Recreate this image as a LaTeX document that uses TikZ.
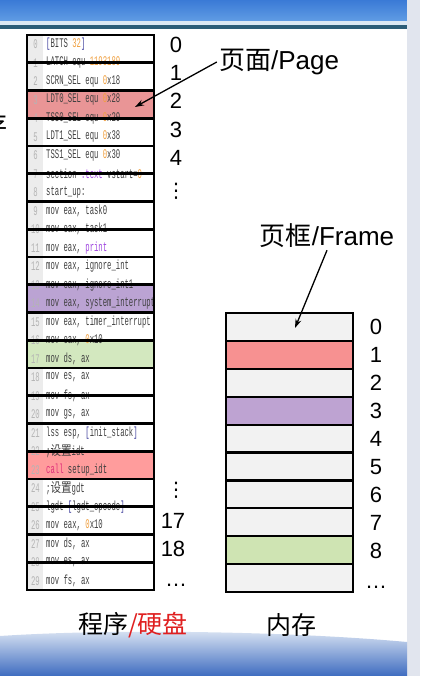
\documentclass[tikz,border=0pt]{standalone}
\usepackage{fontspec}
\setmainfont{Liberation Sans}
\newfontfamily\cjk{Noto Sans CJK SC}
\newfontfamily\dejavu{DejaVu Sans}
\newfontfamily\codefont[FakeStretch=0.55]{Liberation Mono}
\newfontfamily\cjkcode[FakeStretch=0.8]{Noto Sans CJK SC}
\usetikzlibrary{arrows.meta}
\definecolor{codegray}{HTML}{404040}
\definecolor{lngray}{HTML}{B4B4B4}
\definecolor{gutter}{HTML}{ECECEC}
\definecolor{corange}{HTML}{F0A040}
\definecolor{cpurple}{HTML}{A048E0}
\definecolor{cblue}{HTML}{3A3A9A}
\definecolor{cmag}{HTML}{E0307A}
\definecolor{hlredA}{HTML}{E99596}
\definecolor{hlredB}{HTML}{FF9C9C}
\definecolor{hlpurple}{HTML}{BBA3D3}
\definecolor{hlgreen}{HTML}{D3E8BF}
\definecolor{frgray}{HTML}{F2F2F2}
\definecolor{frred}{HTML}{F79191}
\definecolor{frpurple}{HTML}{BEA3D2}
\definecolor{frgreen}{HTML}{CFE4B3}
\definecolor{labelred}{HTML}{E02020}
\definecolor{bannerA}{HTML}{3A7AD6}
\definecolor{bannerB}{HTML}{609CE4}
\definecolor{bannerline}{HTML}{DCE8F3}
\definecolor{bannerdark}{HTML}{2C5D78}
\definecolor{sidestrip}{HTML}{E1E5EE}
\definecolor{waveA}{HTML}{E1E9F5}
\definecolor{waveB}{HTML}{3E6CC0}
\newcommand\corg[1]{\textcolor{corange}{#1}}
\newcommand\cpur[1]{\textcolor{cpurple}{#1}}
\newcommand\cblu[1]{\textcolor{cblue}{#1}}
\newcommand\cmg[1]{\textcolor{cmag}{#1}}
\newcommand\codeline[2]{%
  \node[codetxt] (c#1) at (46,{35+18.5*(#1+0.5)}) {#2};
  \node[lnum] (n#1) at (35.5,{35+18.5*(#1+0.5)}) {#1};}
\tikzset{
  codetxt/.style={anchor=west, inner sep=0pt, text=codegray,
    font=\codefont\fontsize{13.2}{14}\selectfont},
  lnum/.style={inner sep=0pt, text=lngray,
    font=\codefont\fontsize{13.2}{14}\selectfont},
  pagebox/.style={draw=black, line width=2.6pt, minimum width=127pt,
    minimum height=27.75pt, inner sep=0pt},
  hlbox/.style={minimum width=127pt, minimum height=27.75pt, inner sep=0pt},
  framebox/.style={draw=black, line width=2.2pt, minimum width=127pt,
    minimum height=27.9pt, inner sep=0pt},
  bignum/.style={anchor=base, inner sep=0pt, font=\fontsize{22}{24}\selectfont},
  vdotsnode/.style={inner sep=0pt, font=\dejavu\fontsize{20}{22}\selectfont},
  label/.style={inner sep=2pt, font=\fontsize{26}{28}\selectfont},
  ptr/.style={line width=1.3pt, -{Stealth[length=9pt,width=6pt]}}
}
\begin{document}
\begin{tikzpicture}[x=1pt,y=-1pt]
\useasboundingbox (0,0) rectangle (420,676);
% slide background
\fill[white] (0,0) rectangle (420,676);
\shade[top color=bannerA, bottom color=bannerB] (0,0) rectangle (407,21);
\fill[bannerline] (0,21) rectangle (407,25);
\fill[bannerdark] (0,25) rectangle (407,29);
\fill[sidestrip] (407,0) rectangle (420,676);
\shade[top color=waveA, bottom color=waveB]
  (0,636) .. controls (120,628) and (300,632) .. (407,642) -- (407,676) -- (0,676) -- cycle;
% partial character at the left edge
\node[font=\cjk\fontsize{26}{28}\selectfont, inner sep=0pt] (edge) at (-5,125) {存};
% gutter
\fill[gutter] (28,35) rectangle (43,590);
% highlighted pages
\node[hlbox, fill=hlredA] (h2) at (90.5,{35+27.75*2.5}) {};
\node[hlbox, fill=hlpurple] (h9) at (90.5,{35+27.75*9.5}) {};
\node[hlbox, fill=hlgreen] (h11) at (90.5,{35+27.75*11.5}) {};
\node[hlbox, fill=hlredB] (h15) at (90.5,{35+27.75*15.5}) {};
% code
\codeline{0}{\cblu{[}BITS \corg{32}\cblu{]}}
\codeline{1}{LATCH equ \corg{1193180}}
\codeline{2}{SCRN\_SEL equ \corg{0}x18}
\codeline{3}{LDT0\_SEL equ \corg{0}x28}
\codeline{4}{TSS0\_SEL equ \corg{0}x20}
\codeline{5}{LDT1\_SEL equ \corg{0}x38}
\codeline{6}{TSS1\_SEL equ \corg{0}x30}
\codeline{7}{section \cpur{.text} vstart=\corg{0}}
\codeline{8}{start\_up:}
\codeline{9}{mov eax, task0}
\codeline{10}{mov eax, task1}
\codeline{11}{mov eax, \cpur{print}}
\codeline{12}{mov eax, ignore\_int}
\codeline{13}{mov eax, ignore\_int1}
\codeline{14}{mov eax, system\_interrupt}
\codeline{15}{mov eax, timer\_interrupt}
\codeline{16}{mov eax, \corg{0}x10}
\codeline{17}{mov ds, ax}
\codeline{18}{mov es, ax}
\codeline{19}{mov fs, ax}
\codeline{20}{mov gs, ax}
\codeline{21}{lss esp, \cblu{[}init\_stack\cblu{]}}
\codeline{22}{;{\cjkcode 设置}idt}
\codeline{23}{\cmg{call} setup\_idt}
\codeline{24}{;{\cjkcode 设置}gdt}
\codeline{25}{lgdt \cblu{[}lgdt\_opcode\cblu{]}}
\codeline{26}{mov eax, \corg{0}x10}
\codeline{27}{mov ds, ax}
\codeline{28}{mov es, ax}
\codeline{29}{mov fs, ax}
% page boxes
\foreach \i in {0,...,19}
  \node[pagebox] (p\i) at (90.5,{35+27.75*(\i+0.5)}) {};
% page numbers
\node[bignum] (pn0) at (176,53) {0};
\node[bignum] (pn1) at (176,81) {1};
\node[bignum] (pn2) at (176,109) {2};
\node[bignum] (pn3) at (176,138) {3};
\node[bignum] (pn4) at (176,166) {4};
\node[vdotsnode] (pd1) at (176,191) {⋮};
\node[vdotsnode] (pd2) at (176,490) {⋮};
\node[bignum] (pn17) at (173,528) {17};
\node[bignum] (pn18) at (173,556) {18};
\node[bignum] (pnd) at (176,586) {…};
% frames
\foreach \i/\c in {0/frgray,1/frred,2/frgray,3/frpurple,4/frgray,5/frgray,6/frgray,7/frgray,8/frgreen,9/frgray}
  \node[framebox, fill=\c] (f\i) at (289.5,{313+27.9*(\i+0.5)}) {};
\foreach \i in {0,...,8}
  \node[bignum] (fn\i) at (376,{313+27.9*(\i+0.5)+8}) {\i};
\node[bignum] (fnd) at (376,588) {…};
% labels
\node[label] (pagelbl) at (279,62) {{\cjk 页面}/Page};
\node[label] (framelbl) at (327,236) {{\cjk 页框}/Frame};
\node[label, font=\cjk\fontsize{25}{27}\selectfont] (disklbl) at (133,625) {程序\textcolor{labelred}{/硬盘}};
\node[label, font=\cjk\fontsize{25}{27}\selectfont] (memlbl) at (291,625) {内存};
% pointers
\coordinate (pagetip) at (135,107);
\coordinate (frametip) at (295,328);
\draw[ptr] (pagelbl.west) -- (pagetip);
\draw[ptr] (framelbl.south) -- (frametip);
\end{tikzpicture}
\end{document}
